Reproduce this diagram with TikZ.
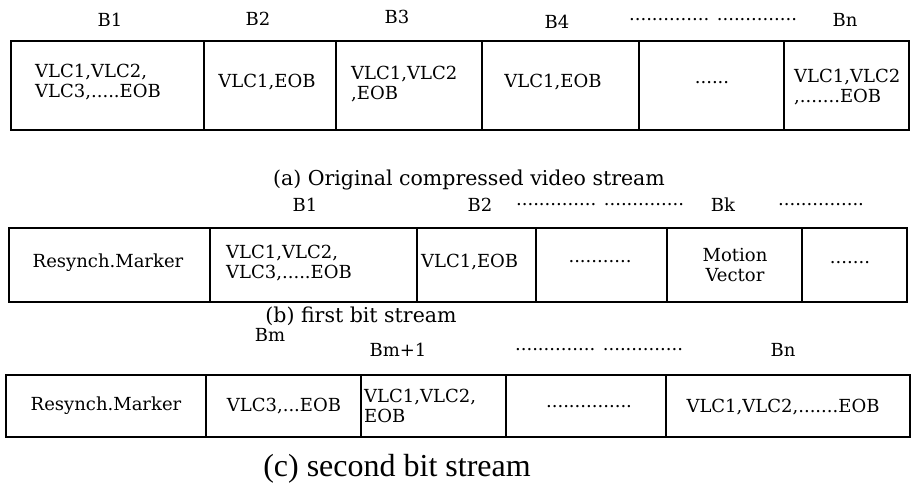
\documentclass[tikz,border=0pt]{standalone}
\usepackage{fontspec}
\setmainfont{DejaVu Serif}
\newfontfamily\capcfont{Liberation Serif}
\begin{document}
\begin{tikzpicture}[x=1pt,y=-1pt,
  cell/.style={draw=black, line width=1.1pt, inner sep=0pt, outer sep=0pt, anchor=north west},
  txt/.style={inner sep=0pt, font=\fontsize{18}{20.5}\selectfont, text=black},
  ltxt/.style={txt, anchor=west, align=left},
  ctxt/.style={txt, align=center},
  capab/.style={inner sep=0pt, font=\fontsize{20.5}{24}\selectfont},
  capc/.style={inner sep=0pt, font=\capcfont\fontsize{32}{36}\selectfont, anchor=base}]
\useasboundingbox (0,0) rectangle (912,484);
% ---------- row 1 ----------
\node[cell, minimum width=193pt, minimum height=89pt] (a1) at (11,41) {};
\node[cell, minimum width=132pt, minimum height=89pt] (a2) at (204,41) {};
\node[cell, minimum width=146pt, minimum height=89pt] (a3) at (336,41) {};
\node[cell, minimum width=157pt, minimum height=89pt] (a4) at (482,41) {};
\node[cell, minimum width=145pt, minimum height=89pt] (a5) at (639,41) {};
\node[cell, minimum width=125pt, minimum height=89pt] (a6) at (784,41) {};
\node[ltxt] (ta1) at (35,82) {VLC1,VLC2,\\VLC3,.....EOB};
\node[ctxt] (ta2) at (267,82) {VLC1,EOB};
\node[ltxt] (ta3) at (351,84) {VLC1,VLC2\\,EOB};
\node[ctxt] (ta4) at (553,82) {VLC1,EOB};
\node[ctxt] (ta5) at (712,83) {......};
\node[ltxt] (ta6) at (794,87) {VLC1,VLC2\\,.......EOB};
\node[ctxt] (la1) at (110,20) {B1};
\node[ctxt] (la2) at (258,19) {B2};
\node[ctxt] (la3) at (397,17) {B3};
\node[ctxt] (la4) at (557,22) {B4};
\node[ctxt] (lad) at (713,20) {.............. ..............};
\node[ctxt] (la6) at (845,20) {Bn};
\node[capab] (capa) at (469,180) {(a) Original compressed video stream};
% ---------- row 2 ----------
\node[cell, minimum width=201pt, minimum height=74pt] (b1) at (9,228) {};
\node[cell, minimum width=207pt, minimum height=74pt] (b2) at (210,228) {};
\node[cell, minimum width=119pt, minimum height=74pt] (b3) at (417,228) {};
\node[cell, minimum width=131pt, minimum height=74pt] (b4) at (536,228) {};
\node[cell, minimum width=135pt, minimum height=74pt] (b5) at (667,228) {};
\node[cell, minimum width=105pt, minimum height=74pt] (b6) at (802,228) {};
\node[ctxt] (tb1) at (108,263) {Resynch.Marker};
\node[ltxt] (tb2) at (226,263) {VLC1,VLC2,\\VLC3,.....EOB};
\node[ltxt] (tb3) at (421,262) {VLC1,EOB};
\node[ctxt] (tb4) at (600,262) {...........};
\node[ctxt] (tb5) at (735,265) {Motion\\Vector};
\node[ctxt] (tb6) at (850,263) {.......};
\node[ctxt] (lb1) at (305,205) {B1};
\node[ctxt] (lb2) at (480,205) {B2};
\node[ctxt] (lbd1) at (600,205) {.............. ..............};
\node[ctxt] (lb3) at (723,205) {Bk};
\node[ctxt] (lbd2) at (821,205) {...............};
\node[capab] (capb) at (361,316) {(b) first bit stream};
% ---------- row 3 ----------
\node[cell, minimum width=200pt, minimum height=62pt] (c1) at (6,375) {};
\node[cell, minimum width=155pt, minimum height=62pt] (c2) at (206,375) {};
\node[cell, minimum width=145pt, minimum height=62pt] (c3) at (361,375) {};
\node[cell, minimum width=160pt, minimum height=62pt] (c4) at (506,375) {};
\node[cell, minimum width=244pt, minimum height=62pt] (c5) at (666,375) {};
\node[ctxt] (tc1) at (106,406) {Resynch.Marker};
\node[ctxt] (tc2) at (284,406) {VLC3,...EOB};
\node[ltxt] (tc3) at (364,406) {VLC1,VLC2,\\EOB};
\node[ctxt] (tc4) at (589,407) {...............};
\node[ctxt] (tc5) at (783,407) {VLC1,VLC2,.......EOB};
\node[ctxt] (lc1) at (270,335) {Bm};
\node[ctxt] (lc2) at (398,350) {Bm+1};
\node[ctxt] (lcd) at (599,350) {.............. ..............};
\node[ctxt] (lc3) at (783,350) {Bn};
\node[capc] (capcn) at (397,476) {(c) second bit stream};
\end{tikzpicture}
\end{document}
